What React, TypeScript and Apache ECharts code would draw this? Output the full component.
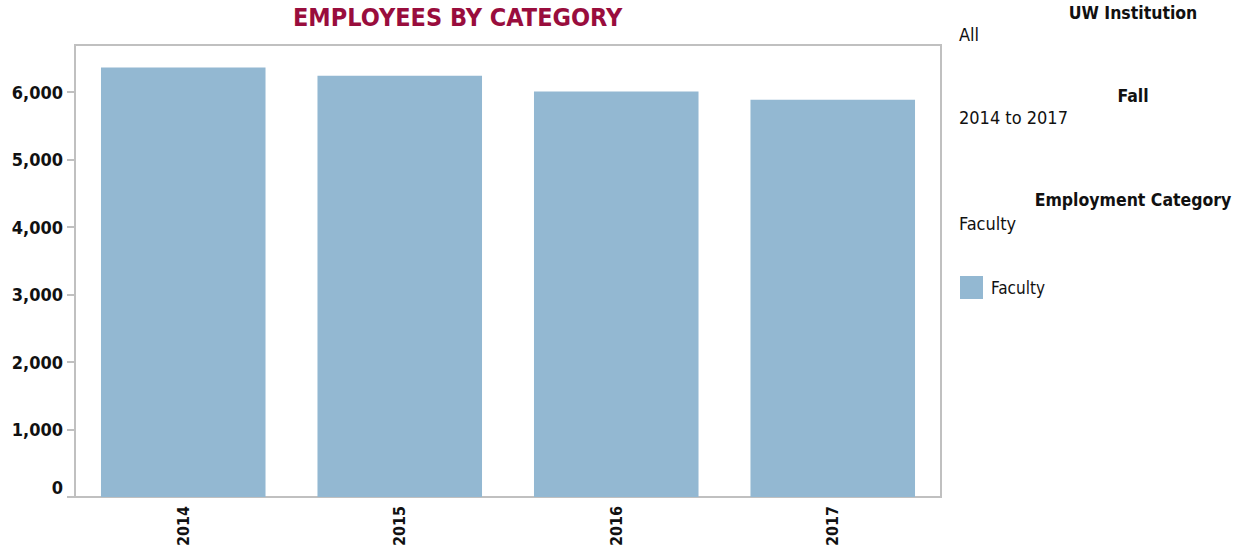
import React, { useEffect, useRef } from "react";
import * as echarts from "echarts";

const years = ["2014", "2015", "2016", "2017"];
const facultyCounts = [6365, 6245, 6010, 5890];
const yTicks = [0, 1000, 2000, 3000, 4000, 5000, 6000];
const seriesName = "Faculty";
const title = "EMPLOYEES BY CATEGORY";
const filterPanel = [
  { heading: "UW Institution", value: "All", hy: 13, vy: 34 },
  { heading: "Fall", value: "2014 to 2017", hy: 96, vy: 117 },
  { heading: "Employment Category", value: "Faculty", hy: 200, vy: 223 },
];

const FONT = "'DejaVu Sans Condensed', 'DejaVu Sans', sans-serif";
const AXIS = "#c0c0c0";
const BAR = "#93b8d2";

export default function App() {
  const ref = useRef<HTMLDivElement>(null);
  useEffect(() => {
    if (!ref.current) return;
    const chart = echarts.init(ref.current, null, { renderer: "svg" });
    const graphics: any[] = [];
    filterPanel.forEach((f) => {
      graphics.push({
        type: "text",
        x: 1133,
        y: f.hy,
        style: {
          text: f.heading,
          fontFamily: FONT,
          fontWeight: "bold",
          fontSize: 17.5,
          fill: "#111",
          textAlign: "center",
          textVerticalAlign: "middle",
        },
      });
      graphics.push({
        type: "text",
        x: 959,
        y: f.vy,
        style: {
          text: f.value,
          fontFamily: FONT,
          fontSize: 18,
          fill: "#111",
          textAlign: "left",
          textVerticalAlign: "middle",
        },
      });
    });
    chart.setOption({
      animation: false,
      title: {
        text: title,
        left: 293,
        top: 5,
        padding: 0,
        textStyle: {
          fontFamily: FONT,
          fontSize: 25,
          fontWeight: "bold",
          color: "#990d3d",
        },
      },
      legend: {
        data: [seriesName],
        left: 955,
        top: 271,
        icon: "rect",
        itemWidth: 23,
        itemHeight: 23,
        textStyle: {
          fontFamily: FONT,
          fontSize: 17,
          color: "#111",
          padding: [0, 0, 0, 3],
        },
      },
      grid: {
        left: 75,
        right: 298,
        top: 45,
        bottom: 54,
        show: true,
        borderColor: AXIS,
        borderWidth: 2,
        containLabel: false,
      },
      xAxis: {
        type: "category",
        data: years,
        axisLine: { lineStyle: { color: AXIS, width: 2 } },
        axisTick: { length: 8, lineStyle: { color: AXIS, width: 2 } },
        axisLabel: {
          rotate: 90,
          margin: 9,
          fontFamily: FONT,
          fontWeight: "bold",
          fontSize: 16,
          color: "#111",
        },
      },
      yAxis: {
        type: "value",
        min: 0,
        max: 6700,
        interval: 1000,
        splitLine: { show: false },
        axisLine: { show: true, lineStyle: { color: AXIS, width: 2 } },
        axisTick: {
          show: true,
          length: 8,
          customValues: yTicks,
          lineStyle: { color: AXIS, width: 2 },
        },
        axisLabel: {
          customValues: yTicks,
          margin: 12,
          fontFamily: FONT,
          fontWeight: "bold",
          fontSize: 18,
          color: "#111",
          formatter: (v: number) =>
            v === 0 ? "{z|0}" : v.toLocaleString("en-US"),
          rich: {
            z: {
              fontFamily: FONT,
              fontWeight: "bold",
              fontSize: 18,
              color: "#111",
              padding: [0, 0, 19, 0],
            },
          },
        },
      },
      series: [
        {
          name: seriesName,
          type: "bar",
          data: facultyCounts,
          barCategoryGap: "24%",
          itemStyle: { color: BAR },
        },
      ],
      graphic: graphics,
    });
    return () => chart.dispose();
  }, []);
  return (
    <div
      ref={ref}
      style={{ position: "fixed", left: 0, top: 0, width: 1239, height: 551, background: "#fff" }}
    />
  );
}
